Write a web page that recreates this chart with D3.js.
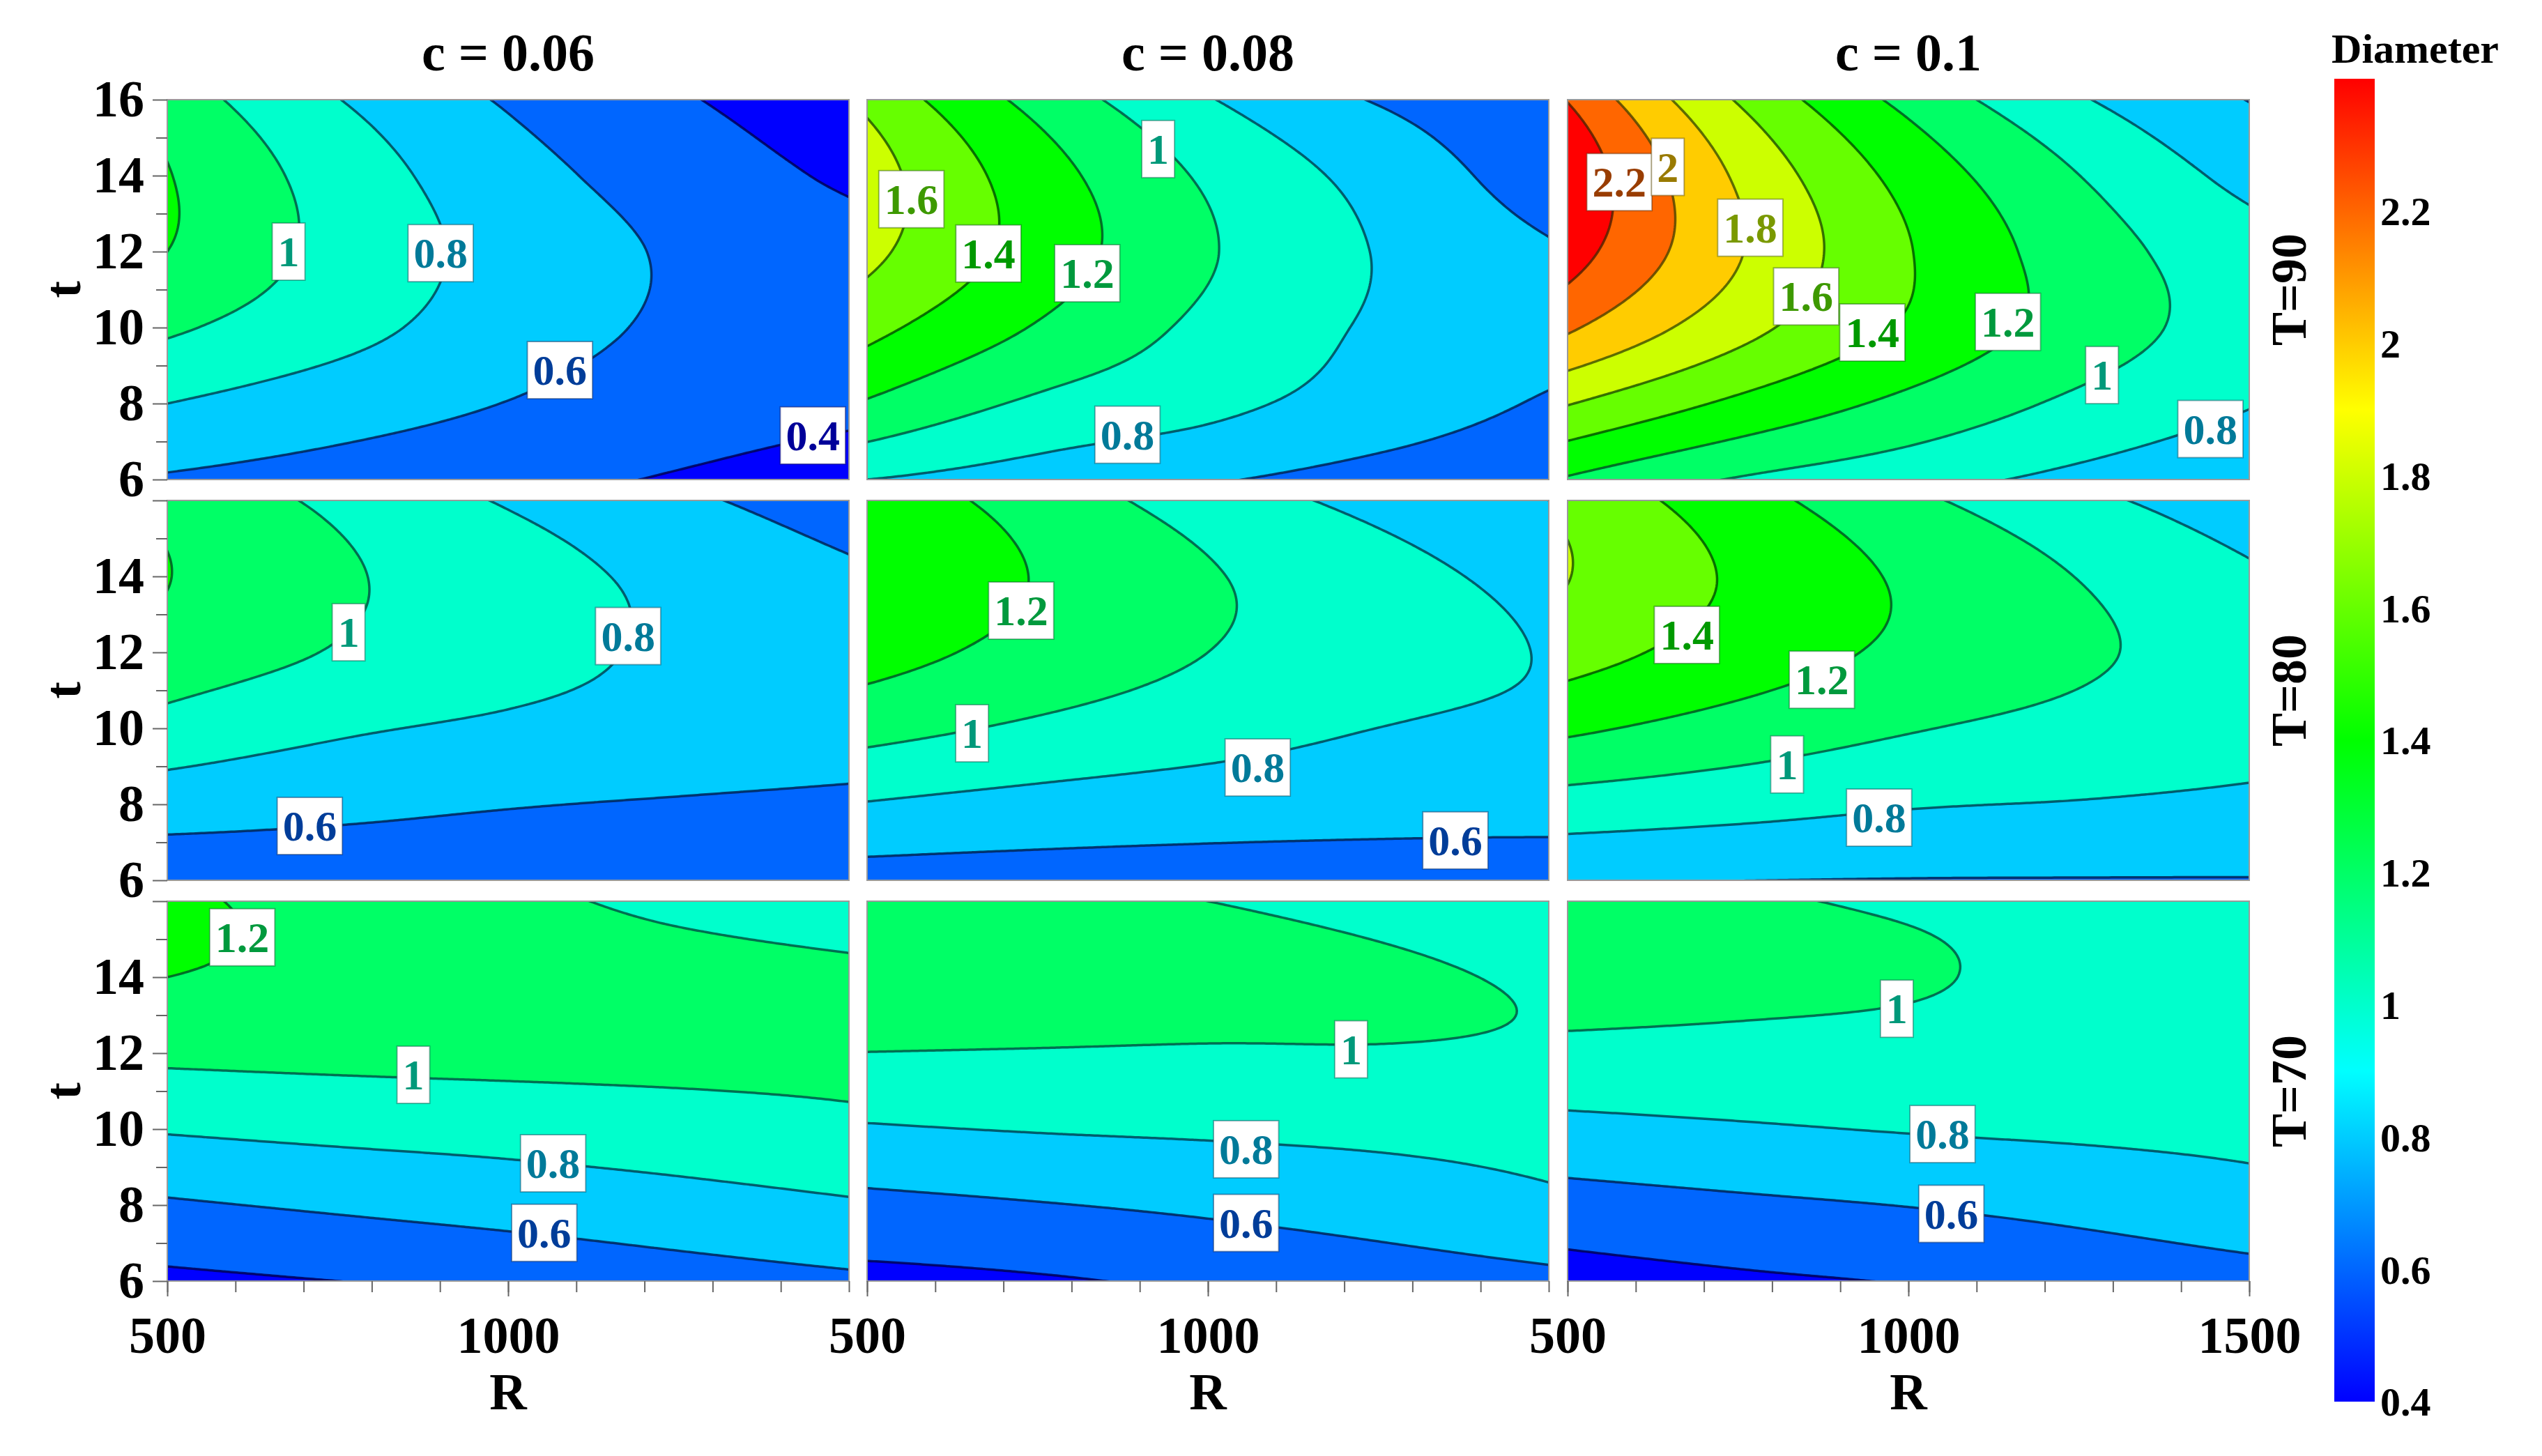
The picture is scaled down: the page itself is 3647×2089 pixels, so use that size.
<!DOCTYPE html>
<html>
<head>
<meta charset="utf-8">
<script src="https://cdn.jsdelivr.net/npm/d3@7"></script>
<style>
body { margin: 0; background: #fff; }
text { font-family: "Liberation Serif", "Times New Roman", serif; font-weight: bold; }
</style>
</head>
<body>
<div id="chart"></div>
<script>
var rValues = [500, 750, 1000, 1250, 1500];
var tValues = [6, 8, 10, 12, 14, 16];

var cTitles = ["c = 0.06", "c = 0.08", "c = 0.1"];
var rowTitles = ["T=90", "T=80", "T=70"];
var levels = [0.4, 0.6, 0.8, 1, 1.2, 1.4, 1.6, 1.8, 2, 2.2];
var colorbarTicks = [0.4, 0.6, 0.8, 1, 1.2, 1.4, 1.6, 1.8, 2, 2.2];
var yTicks = [6, 8, 10, 12, 14, 16];
var xTicks = [500, 1000, 1500];

// T = 90
var T90_c006 = [
    [0.58, 0.52, 0.455, 0.385, 0.33],
    [0.80, 0.695, 0.595, 0.49, 0.43],
    [1.03, 0.865, 0.70, 0.565, 0.48],
    [1.20, 0.94, 0.73, 0.575, 0.47],
    [1.21, 0.915, 0.675, 0.51, 0.37],
    [1.11, 0.805, 0.58, 0.42, 0.28]
];
var T90_c008 = [
    [0.80, 0.71, 0.62, 0.52, 0.45],
    [1.18, 0.967, 0.85, 0.71, 0.58],
    [1.46, 1.185, 0.955, 0.775, 0.67],
    [1.65, 1.316, 1.017, 0.79, 0.62],
    [1.69, 1.29, 0.97, 0.73, 0.50],
    [1.55, 1.134, 0.813, 0.586, 0.46]
];
var T90_c01 = [
    [1.18, 0.986, 0.87, 0.75, 0.64],
    [1.61, 1.36, 1.15, 0.96, 0.81],
    [2.03, 1.67, 1.372, 1.113, 0.90],
    [2.29, 1.815, 1.41, 1.10, 0.88],
    [2.36, 1.772, 1.331, 1.002, 0.74],
    [2.19, 1.584, 1.142, 0.82, 0.595]
];
// T = 80
var T80_c006 = [
    [0.47, 0.465, 0.46, 0.455, 0.45],
    [0.69, 0.65, 0.61, 0.585, 0.565],
    [0.93, 0.825, 0.77, 0.73, 0.687],
    [1.12, 0.986, 0.864, 0.774, 0.72],
    [1.205, 1.028, 0.88, 0.75, 0.635],
    [1.14, 0.959, 0.782, 0.638, 0.495]
];
var T80_c008 = [
    [0.515, 0.51, 0.51, 0.515, 0.52],
    [0.79, 0.735, 0.696, 0.667, 0.655],
    [1.065, 0.968, 0.883, 0.799, 0.763],
    [1.28, 1.132, 1.0, 0.89, 0.79],
    [1.395, 1.19, 1.017, 0.87, 0.735],
    [1.34, 1.113, 0.908, 0.74, 0.60]
];
var T80_c01 = [
    [0.615, 0.602, 0.594, 0.592, 0.592],
    [0.92, 0.868, 0.814, 0.79, 0.76],
    [1.234, 1.12, 1.013, 0.944, 0.88],
    [1.48, 1.31, 1.159, 1.028, 0.92],
    [1.605, 1.373, 1.171, 0.995, 0.83],
    [1.547, 1.283, 1.045, 0.852, 0.68]
];
// T = 70
var T70_c006 = [
    [0.36, 0.40, 0.445, 0.51, 0.565],
    [0.577, 0.628, 0.676, 0.726, 0.779],
    [0.816, 0.85, 0.876, 0.91, 0.955],
    [1.04, 1.05, 1.055, 1.055, 1.05],
    [1.20, 1.15, 1.10, 1.055, 1.02],
    [1.23, 1.14, 1.05, 0.955, 0.94]
];
var T70_c008 = [
    [0.35, 0.38, 0.435, 0.49, 0.545],
    [0.55, 0.59, 0.635, 0.69, 0.76],
    [0.782, 0.81, 0.827, 0.845, 0.868],
    [0.997, 0.99, 0.985, 0.99, 0.98],
    [1.15, 1.11, 1.065, 1.025, 0.982],
    [1.12, 1.07, 1.0, 0.94, 0.89]
];
var T70_c01 = [
    [0.32, 0.37, 0.41, 0.47, 0.52],
    [0.52, 0.565, 0.605, 0.655, 0.72],
    [0.747, 0.78, 0.81, 0.83, 0.85],
    [0.95, 0.945, 0.94, 0.925, 0.91],
    [1.09, 1.05, 1.015, 0.96, 0.925],
    [1.08, 1.025, 0.975, 0.94, 0.91]
];

// contour labels: [level, R, t]
var T90_c006_labels = [[1, 678, 12.0], [0.8, 901, 11.96], [0.6, 1076, 8.88], [0.4, 1447, 7.16]];
var T90_c008_labels = [[1.6, 565, 13.38], [1.4, 678, 11.95], [1.2, 823, 11.43], [1, 927, 14.7], [0.8, 882, 7.18]];
var T90_c01_labels = [[2.2, 576, 13.83], [2, 647, 14.23], [1.8, 768, 12.63], [1.6, 850, 10.82],
    [1.4, 947, 9.87], [1.2, 1146, 10.15], [1, 1284, 8.75], [0.8, 1443, 7.33]];
var T80_c006_labels = [[1, 766, 12.53], [0.8, 1176, 12.43], [0.6, 709, 7.43]];
var T80_c008_labels = [[1.2, 726, 13.1], [1, 654, 9.87], [0.8, 1073, 8.97], [0.6, 1363, 7.05]];
var T80_c01_labels = [[1.4, 675, 12.46], [1.2, 873, 11.28], [1, 822, 9.05], [0.8, 957, 7.65]];
var T70_c006_labels = [[1.2, 610, 15.05], [1, 861, 11.43], [0.8, 1066, 9.1], [0.6, 1053, 7.27]];
var T70_c008_labels = [[1, 1210, 12.1], [0.8, 1056, 9.47], [0.6, 1056, 7.53]];
var T70_c01_labels = [[1, 983, 13.17], [0.8, 1050, 9.87], [0.6, 1063, 7.77]];

var panels = [
    [T90_c006, T90_c006_labels], [T90_c008, T90_c008_labels], [T90_c01, T90_c01_labels],
    [T80_c006, T80_c006_labels], [T80_c008, T80_c008_labels], [T80_c01, T80_c01_labels],
    [T70_c006, T70_c006_labels], [T70_c008, T70_c008_labels], [T70_c01, T70_c01_labels]
];

var width = 3647, height = 2089;
var panelLeft = [240, 1244, 2249], panelTop = [143, 718, 1293];
var pw = 978, ph = 545;

var svg = d3.select("#chart").append("svg")
    .attr("width", width).attr("height", height);

// rainbow used by the colour bar: blue at 0.4 to red at 2.4
var hue = d3.scaleLinear().domain([0.4, 2.4]).range([240, 0]).clamp(true);
function fillColor(v) { return d3.hsl(hue(v), 1, 0.5).formatHex(); }
function lineColor(v) { return d3.hsl(hue(v), 1, 0.17).formatHex(); }
function textColor(v) { return d3.hsl(hue(v), 1, 0.3).formatHex(); }

// catmull-rom, used only to draw smooth contours through the read grid
function cr(p0, p1, p2, p3, s) {
    return 0.5 * (2 * p1 + (-p0 + p2) * s + (2 * p0 - 5 * p1 + 4 * p2 - p3) * s * s
        + (-p0 + 3 * p1 - 3 * p2 + p3) * s * s * s);
}
function extend(arr) {
    var n = arr.length;
    return [3 * arr[0] - 3 * arr[1] + arr[2]].concat(arr, [3 * arr[n - 1] - 3 * arr[n - 2] + arr[n - 3]]);
}
function padGrid(grid) {
    var rows = grid.map(extend);
    var cols = rows[0].map(function (_, i) { return extend(rows.map(function (r) { return r[i]; })); });
    return cols; // cols[i][j]
}
function sample(P, gx, gy) {
    var nR = P.length - 2, nT = P[0].length - 2;
    var i = Math.min(Math.max(Math.floor(gx), 0), nR - 2), s = gx - i;
    var j = Math.min(Math.max(Math.floor(gy), 0), nT - 2), q = gy - j;
    var col = [];
    for (var a = 0; a < 4; a++) {
        var c = P[i + a];
        col.push(cr(c[j], c[j + 1], c[j + 2], c[j + 3], q));
    }
    return cr(col[0], col[1], col[2], col[3], s);
}

function styleAxis(sel) {
    sel.select(".domain").remove();
    sel.selectAll(".tick line").attr("stroke", "#666").attr("stroke-width", 2);
    sel.selectAll(".tick text").attr("fill", "#000").style("font-size", "74px")
        .style("font-family", "'Liberation Serif', serif").style("font-weight", "bold");
}

var defs = svg.append("defs");
var nx = 260, ny = 150;
var R0 = 480, R1 = 1520, T0 = 5.8, T1 = 16.2;

panels.forEach(function (p, k) {
    var row = Math.floor(k / 3), col = k % 3;
    var grid = p[0], labels = p[1];
    var x = d3.scaleLinear().domain([500, 1500]).range([0, pw]);
    var y = d3.scaleLinear().domain([6, 16]).range([ph, 0]);
    var rStep = rValues[1] - rValues[0], tStep = tValues[1] - tValues[0];

    var P = padGrid(grid);
    var values = new Array(nx * ny);
    for (var jy = 0; jy < ny; jy++) {
        for (var ix = 0; ix < nx; ix++) {
            var R = R0 + (ix + 0.5) / nx * (R1 - R0);
            var t = T0 + (jy + 0.5) / ny * (T1 - T0);
            values[jy * nx + ix] = sample(P, (R - rValues[0]) / rStep, (t - tValues[0]) / tStep);
        }
    }
    var contours = d3.contours().size([nx, ny]).thresholds(levels)(values);
    var proj = d3.geoTransform({
        point: function (px, py) {
            this.stream.point(x(R0 + px / nx * (R1 - R0)), y(T0 + py / ny * (T1 - T0)));
        }
    });
    var path = d3.geoPath(proj);

    defs.append("clipPath").attr("id", "clip" + k)
        .append("rect").attr("width", pw).attr("height", ph);

    var g = svg.append("g")
        .attr("transform", "translate(" + panelLeft[col] + "," + panelTop[row] + ")");
    var body = g.append("g").attr("clip-path", "url(#clip" + k + ")");

    body.append("rect").attr("width", pw).attr("height", ph).attr("fill", fillColor(0.4));
    body.selectAll(".band").data(contours).enter().append("path")
        .attr("d", path)
        .attr("fill", function (d) { return fillColor(Math.round((d.value + 0.2) * 10) / 10); });
    body.selectAll(".line").data(contours).enter().append("path")
        .attr("d", path)
        .attr("fill", "none")
        .attr("stroke", function (d) { return lineColor(d.value); })
        .attr("stroke-width", 3.5)
        .attr("stroke-opacity", 0.85);

    g.append("rect").attr("width", pw).attr("height", ph)
        .attr("fill", "none").attr("stroke", "#9a9a9a").attr("stroke-width", 2);

    // contour labels
    labels.forEach(function (l) {
        var lg = g.append("g").attr("transform", "translate(" + x(l[1]) + "," + y(l[2]) + ")");
        var box = lg.append("rect");
        var txt = lg.append("text")
            .attr("text-anchor", "middle")
            .attr("dy", "0.34em")
            .style("font-size", "62px")
            .attr("fill", textColor(l[0]))
            .text(String(l[0]));
        var w = txt.node().getComputedTextLength() + 16;
        box.attr("x", -w / 2).attr("y", -41).attr("width", w).attr("height", 82)
            .attr("fill", "white")
            .attr("stroke", lineColor(l[0])).attr("stroke-opacity", 0.45).attr("stroke-width", 2);
    });

    // axes
    if (col === 0) {
        g.append("g").call(d3.axisLeft(y).tickValues([7, 9, 11, 13, 15]).tickSize(16).tickFormat(""))
            .call(styleAxis);
        // the lower rows leave out the top label, it would sit on the 6 above
        g.append("g").call(d3.axisLeft(y).tickValues(yTicks).tickSize(21).tickPadding(12)
                .tickFormat(function (d) { return (row > 0 && d === 16) ? "" : d; }))
            .call(styleAxis);
        g.append("text")
            .attr("transform", "translate(" + (93 - panelLeft[0]) + "," + (ph / 2) + ") rotate(-90)")
            .attr("text-anchor", "middle").attr("dy", "0.3em")
            .style("font-size", "74px").text("t");
    }
    if (row === 2) {
        g.append("g").attr("transform", "translate(0," + ph + ")")
            .call(d3.axisBottom(x).tickValues(d3.range(500, 1501, 100)).tickSize(16).tickFormat(""))
            .call(styleAxis);
        g.append("g").attr("transform", "translate(0," + ph + ")")
            .call(d3.axisBottom(x).tickValues(col < 2 ? xTicks.slice(0, 2) : xTicks)
                .tickSize(22).tickPadding(28).tickFormat(d3.format("d")))
            .call(styleAxis);
        g.append("text")
            .attr("x", pw / 2).attr("y", 2022 - panelTop[2])
            .attr("text-anchor", "middle")
            .style("font-size", "74px").text("R");
    }
    if (row === 0) {
        g.append("text")
            .attr("x", pw / 2).attr("y", 101 - panelTop[0])
            .attr("text-anchor", "middle")
            .style("font-size", "76px").text(cTitles[col]);
    }
    if (col === 2) {
        g.append("text")
            .attr("transform", "translate(" + (3283 - panelLeft[2]) + "," + (ph / 2) + ") rotate(-90)")
            .attr("text-anchor", "middle").attr("dy", "0.35em")
            .style("font-size", "72px").text(rowTitles[row]);
    }
});

// colour bar
var cbX = 3349, cbW = 58, cbTop = 113, cbBottom = 2011;
var cbScale = d3.scaleLinear().domain([0.4, 2.4]).range([cbBottom, cbTop]);
var grad = defs.append("linearGradient").attr("id", "cbgrad")
    .attr("x1", 0).attr("y1", 1).attr("x2", 0).attr("y2", 0);
d3.range(0, 21).forEach(function (i) {
    var v = 0.4 + i * 0.1;
    grad.append("stop").attr("offset", (i / 20)).attr("stop-color", fillColor(v));
});
svg.append("rect")
    .attr("x", cbX).attr("y", cbTop).attr("width", cbW).attr("height", cbBottom - cbTop)
    .attr("fill", "url(#cbgrad)");
svg.selectAll(".cbtick").data(colorbarTicks).enter().append("text")
    .attr("x", cbX + cbW + 8)
    .attr("y", function (d) { return cbScale(d); })
    .attr("dy", "0.35em")
    .style("font-size", "58px")
    .text(function (d) { return String(d); });
svg.append("text")
    .attr("x", 3465).attr("y", 90)
    .attr("text-anchor", "middle")
    .style("font-size", "60px").text("Diameter");
</script>
</body>
</html>
